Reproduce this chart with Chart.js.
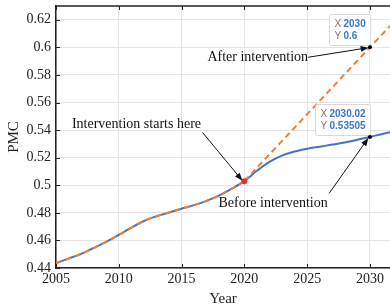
<!DOCTYPE html>
<html>
<head>
<meta charset="utf-8">
<script src="https://cdn.jsdelivr.net/npm/chart.js@4/dist/chart.umd.min.js"></script>
<style>
  html, body { margin: 0; padding: 0; background: #fff; }
  #wrap { width: 390px; height: 308px; position: relative; }
</style>
</head>
<body>
<div id="wrap"><canvas id="pmcChart"></canvas></div>
<script>
// Data
var years = [2005, 2006, 2007, 2008, 2009, 2010, 2011, 2012, 2013, 2014, 2015, 2016, 2017, 2018, 2019, 2020,
             2021, 2022, 2023, 2024, 2025, 2026, 2027, 2028, 2029, 2030, 2031, 2031.6];
var pmcBefore = [0.4435, 0.4468, 0.4502, 0.4545, 0.459, 0.464, 0.4693, 0.4741, 0.4775, 0.4803, 0.483, 0.4856, 0.4887, 0.4926, 0.4975, 0.503,
                 0.5105, 0.517, 0.5215, 0.5245, 0.5265, 0.528, 0.5295, 0.531, 0.533, 0.535, 0.5372, 0.5385];
var projYears = [2020, 2030, 2031.6];
var pmcAfter = [0.503, 0.6, 0.6155];
var xTicks = [2005, 2010, 2015, 2020, 2025, 2030];
var yTicks = [0.44, 0.46, 0.48, 0.5, 0.52, 0.54, 0.56, 0.58, 0.6, 0.62];

// datatips + notes (data coordinates)
var tips = [
  { x: 2030, y: 0.6, lines: ['2030', '0.6'] },
  { x: 2030, y: 0.535, lines: ['2030.02', '0.53505'] }
];
var notes = [
  { text: 'After intervention', tx: 2017.06, ty: 0.5928, from: null, to: [2029.9, 0.5998] },
  { text: 'Intervention starts here', tx: 2006.27, ty: 0.5441, from: [2016.67, 0.5383], to: [2019.85, 0.5033] },
  { text: 'Before intervention', tx: 2017.94, ty: 0.4868, from: [2026.75, 0.4941], to: [2029.88, 0.5343] }
];

function pts(xs, ys) {
  return xs.map(function (x, i) { return { x: x, y: ys[i] }; });
}
var preIdx = years.indexOf(2020) + 1;

var SERIF = '"Liberation Serif", "Times New Roman", serif';
var SANS = '"Liberation Sans", Arial, sans-serif';

function arrow(ctx, x1, y1, x2, y2) {
  var a = Math.atan2(y2 - y1, x2 - x1), L = 8, W = 3;
  ctx.beginPath();
  ctx.moveTo(x1, y1);
  ctx.lineTo(x2 - Math.cos(a) * L * 0.8, y2 - Math.sin(a) * L * 0.8);
  ctx.stroke();
  ctx.beginPath();
  ctx.moveTo(x2, y2);
  ctx.lineTo(x2 - Math.cos(a) * L - Math.sin(a) * W, y2 - Math.sin(a) * L + Math.cos(a) * W);
  ctx.lineTo(x2 - Math.cos(a) * L + Math.sin(a) * W, y2 - Math.sin(a) * L - Math.cos(a) * W);
  ctx.closePath();
  ctx.fill();
}

var decor = {
  id: 'decor',
  afterDraw: function (chart) {
    var ctx = chart.ctx, xs = chart.scales.x, ys = chart.scales.y, ca = chart.chartArea;
    ctx.save();
    // frame top + inward ticks
    ctx.strokeStyle = '#222';
    ctx.lineWidth = 1.5;
    ctx.beginPath();
    ctx.moveTo(ca.left, ca.top);
    ctx.lineTo(ca.right, ca.top);
    ctx.stroke();
    ctx.lineWidth = 1;
    xTicks.forEach(function (t) {
      var px = Math.round(xs.getPixelForValue(t)) + 0.5;
      ctx.beginPath();
      ctx.moveTo(px, ca.bottom); ctx.lineTo(px, ca.bottom - 4);
      ctx.moveTo(px, ca.top); ctx.lineTo(px, ca.top + 4);
      ctx.stroke();
    });
    yTicks.forEach(function (t) {
      var py = Math.round(ys.getPixelForValue(t)) + 0.5;
      ctx.beginPath();
      ctx.moveTo(ca.left, py); ctx.lineTo(ca.left + 4, py);
      ctx.stroke();
    });

    // start point
    ctx.fillStyle = '#e8302a';
    ctx.beginPath();
    ctx.arc(xs.getPixelForValue(2020), ys.getPixelForValue(0.503), 3, 0, Math.PI * 2);
    ctx.fill();

    // notes
    ctx.fillStyle = '#111';
    ctx.strokeStyle = '#111';
    ctx.lineWidth = 1;
    ctx.font = '14px ' + SERIF;
    ctx.textBaseline = 'middle';
    notes.forEach(function (n) {
      var tx = xs.getPixelForValue(n.tx), ty = ys.getPixelForValue(n.ty);
      ctx.fillText(n.text, tx, ty);
      var fx = n.from ? xs.getPixelForValue(n.from[0]) : tx + ctx.measureText(n.text).width;
      var fy = n.from ? ys.getPixelForValue(n.from[1]) : ty;
      arrow(ctx, fx, fy, xs.getPixelForValue(n.to[0]), ys.getPixelForValue(n.to[1]));
    });

    // datatips
    tips.forEach(function (t) {
      var px = xs.getPixelForValue(t.x), py = ys.getPixelForValue(t.y);
      ctx.font = 'bold 10px ' + SANS;
      var w = 14 + Math.max(ctx.measureText(t.lines[0]).width, ctx.measureText(t.lines[1]).width) + 5;
      var h = 31;
      var bx = Math.round(px - w) + 0.5, by = Math.round(py - h - 2) + 0.5;
      ctx.fillStyle = 'rgba(255,255,255,0.95)';
      ctx.strokeStyle = '#d8d8d8';
      ctx.beginPath();
      ctx.roundRect(bx, by, w, h, 2);
      ctx.fill();
      ctx.stroke();
      ctx.font = '10px ' + SANS;
      ctx.fillStyle = '#777';
      ctx.fillText('X', bx + 5, by + 10);
      ctx.fillText('Y', bx + 5, by + 22);
      ctx.font = 'bold 10px ' + SANS;
      ctx.fillStyle = '#3b78c9';
      ctx.fillText(t.lines[0], bx + 14, by + 10);
      ctx.fillText(t.lines[1], bx + 14, by + 22);
      ctx.fillStyle = '#000';
      ctx.beginPath();
      ctx.arc(px, py, 2, 0, Math.PI * 2);
      ctx.fill();
    });
    ctx.restore();
  }
};

new Chart(document.getElementById('pmcChart'), {
  type: 'line',
  data: {
    datasets: [
      { data: pts(years.slice(0, preIdx), pmcBefore.slice(0, preIdx)), borderColor: '#f07f2d', borderWidth: 2,
        borderDash: [6, 4], cubicInterpolationMode: 'monotone', pointRadius: 0 },
      { data: pts(projYears, pmcAfter), borderColor: '#f07f2d', borderWidth: 2,
        borderDash: [6, 4], tension: 0, pointRadius: 0 },
      { data: pts(years, pmcBefore), borderColor: '#4472c4', borderWidth: 2,
        cubicInterpolationMode: 'monotone', pointRadius: 0 }
    ]
  },
  options: {
    responsive: true, maintainAspectRatio: false, animation: false,
    layout: { padding: { top: 6, right: 0, left: 0, bottom: 0 } },
    plugins: { legend: { display: false }, tooltip: { enabled: false } },
    events: [],
    scales: {
      x: {
        type: 'linear', min: 2005, max: 2031.6,
        afterBuildTicks: function (s) { s.ticks = xTicks.map(function (v) { return { value: v }; }); },
        afterFit: function (s) { s.height = 40; s.paddingRight = 0; },
        grid: { color: '#e4e4e4', drawTicks: false },
        border: { display: true, color: '#222', width: 1.5 },
        ticks: { color: '#222', padding: 3, font: { family: SERIF, size: 14 },
          callback: function (v) { return String(v); } },
        title: { display: true, text: 'Year', color: '#222', font: { family: SERIF, size: 15 }, padding: { top: 0, bottom: 0 } }
      },
      y: {
        min: 0.44, max: 0.63,
        afterBuildTicks: function (s) { s.ticks = yTicks.map(function (v) { return { value: v }; }); },
        afterFit: function (s) { s.width = 56; s.paddingTop = 0; s.paddingBottom = 0; },
        grid: { color: '#e4e4e4', drawTicks: false },
        border: { display: true, color: '#222', width: 1.5 },
        ticks: { color: '#222', padding: 5, font: { family: SERIF, size: 14 },
          callback: function (v) { return String(+v.toFixed(2)); } },
        title: { display: true, text: 'PMC', color: '#222', font: { family: SERIF, size: 15 }, padding: { top: 5, bottom: 4 } }
      }
    }
  },
  plugins: [decor]
});
</script>
</body>
</html>
